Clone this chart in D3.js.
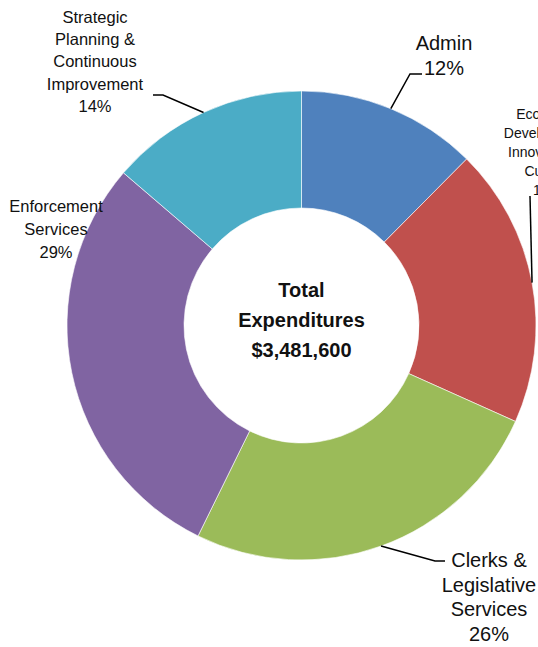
<!DOCTYPE html>
<html>
<head>
<meta charset="utf-8">
<script src="https://cdn.jsdelivr.net/npm/d3@7"></script>
<style>
  html, body { margin: 0; padding: 0; background: #fff; }
  svg { display: block; }
  text { font-family: "Liberation Sans", Arial, sans-serif; fill: #111; }
</style>
</head>
<body>
<svg id="chart" width="538" height="647"></svg>
<script>
// Expenditure by division (dollars)
const categories = [
  "Admin",
  "Economic Development, Innovation & Culture",
  "Clerks & Legislative Services",
  "Enforcement Services",
  "Strategic Planning & Continuous Improvement"
];
const amounts = [433000, 671000, 890000, 1010000, 477600];
const colors = ["#4F81BD", "#C0504D", "#9BBB59", "#8064A2", "#4BACC6"];

// Label text lines (percentage appended from the data)
const labelLines = [
  ["Admin"],
  ["Economic", "Development,", "Innovation &", "Culture"],
  ["Clerks &", "Legislative", "Services"],
  ["Enforcement", "Services"],
  ["Strategic", "Planning &", "Continuous", "Improvement"]
];
const centerLines = ["Total", "Expenditures", "$3,481,600"];

const total = d3.sum(amounts);
const data = categories.map((c, i) => ({ name: c, value: amounts[i], color: colors[i], lines: labelLines[i] }));

const cx = 301.5, cy = 325.5, rOuter = 234.5, rInner = 117.5;

// Label layout: x/y of first baseline, font size, line height, and leader elbow
const labelLayout = [
  { x: 444, y: 50, size: 20, lh: 25, elbow: [410, 74], end: [422, 74] },
  { x: 547, y: 119, size: 14, lh: 19, elbow: [530, 196], end: null },
  { x: 489, y: 567, size: 20, lh: 24.5, elbow: [435, 561], end: [445, 561] },
  { x: 56, y: 212, size: 16.5, lh: 23, elbow: null, end: null },
  { x: 95, y: 23, size: 16.5, lh: 22.2, elbow: [163, 95], end: [153, 95] }
];

const svg = d3.select("#chart");
const g = svg.append("g").attr("transform", `translate(${cx},${cy})`);

const pie = d3.pie().value(d => d.value).sort(null);
const arcs = pie(data);
const arc = d3.arc().innerRadius(rInner).outerRadius(rOuter);

g.selectAll("path.slice")
  .data(arcs)
  .join("path")
  .attr("class", "slice")
  .attr("d", arc)
  .attr("fill", d => d.data.color)
  .attr("stroke", "#ffffff")
  .attr("stroke-width", 0.6);

// Leader lines from the outer edge of each slice
const edgeArc = d3.arc().innerRadius(rOuter).outerRadius(rOuter);
arcs.forEach((a, i) => {
  const L = labelLayout[i];
  if (!L.elbow) return;
  const [px, py] = edgeArc.centroid(a);
  const pts = [[px + cx, py + cy], L.elbow];
  if (L.end) pts.push(L.end);
  svg.append("path")
    .attr("d", d3.line()(pts))
    .attr("fill", "none")
    .attr("stroke", "#000")
    .attr("stroke-width", 1.5);
});

// Category labels
arcs.forEach((a, i) => {
  const L = labelLayout[i];
  const pct = Math.round(a.data.value / total * 100) + "%";
  const lines = a.data.lines.concat([pct]);
  const t = svg.append("text")
    .attr("text-anchor", "middle")
    .attr("font-size", L.size);
  lines.forEach((s, k) => {
    t.append("tspan").attr("x", L.x).attr("y", L.y + k * L.lh).text(s);
  });
});

// Centre caption
const ct = svg.append("text")
  .attr("text-anchor", "middle")
  .attr("font-size", 20)
  .attr("font-weight", "bold");
centerLines.forEach((s, k) => {
  ct.append("tspan").attr("x", cx).attr("y", 297 + k * 30).text(s);
});
</script>
</body>
</html>
